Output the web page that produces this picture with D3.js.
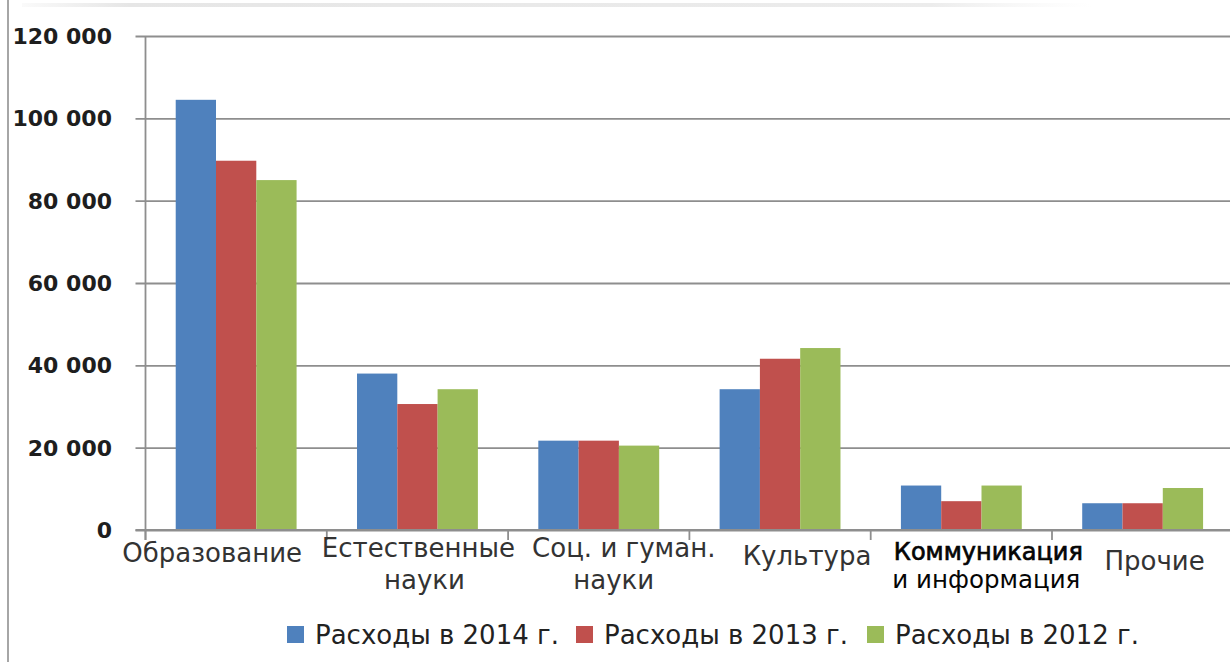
<!DOCTYPE html>
<html>
<head>
<meta charset="utf-8">
<script src="https://cdn.jsdelivr.net/npm/d3@7"></script>
<style>
  html, body { margin: 0; padding: 0; background: #fff; }
  svg { display: block; }
</style>
</head>
<body>
<svg id="chart" width="1230" height="662"></svg>
<script>
// Expenditure by field, three years
const categories = ["Образование", "Естественные\nнауки", "Соц. и гуман.\nнауки", "Культура", "Коммуникация\nи информация", "Прочие"];
const seriesNames = ["Расходы в 2014 г.", "Расходы в 2013 г.", "Расходы в 2012 г."];
const spend2014 = [104500, 38000, 21700, 34200, 10800, 6500];
const spend2013 = [89700, 30600, 21700, 41600, 7000, 6500];
const spend2012 = [85000, 34200, 20500, 44200, 10800, 10200];
const yTicks = [0, 20000, 40000, 60000, 80000, 100000, 120000];

const series = [spend2014, spend2013, spend2012];
const colors = ["#4F81BD", "#C0504D", "#9BBB59"];

// label placement: horizontal shift from band centre, baseline and size of each line
const labelLayout = [
  { dx: [-24], y: [562], size: [26] },
  { dx: [1, 7], y: [557, 589], size: [26, 26] },
  { dx: [25, 15], y: [557, 589], size: [26, 26] },
  { dx: [27], y: [565], size: [26] },
  { dx: [27, 25], y: [560, 588], size: [24, 24.5], strong: true },
  { dx: [12], y: [570], size: [26] }
];
const legendX = [287, 576, 867];

const svg = d3.select("#chart");
const plot = { left: 145.5, right: 145.5 + 6 * 181.3, top: 36, bottom: 530 };
const font = "DejaVu Sans, Verdana, sans-serif";

const x0 = d3.scaleBand()
  .domain(d3.range(categories.length))
  .range([plot.left, plot.right])
  .paddingInner(1 / 3)
  .paddingOuter(1 / 6);
const x1 = d3.scaleBand()
  .domain(d3.range(series.length))
  .range([0, x0.bandwidth()]);
const y = d3.scaleLinear().domain([0, 120000]).range([plot.bottom, plot.top]);

// page frame edges
const defs = svg.append("defs");
const fade = defs.append("linearGradient").attr("id", "topfade");
fade.append("stop").attr("offset", "0").attr("stop-color", "#e6e6e6").attr("stop-opacity", 0.2);
fade.append("stop").attr("offset", "0.1").attr("stop-color", "#e6e6e6").attr("stop-opacity", 1);
fade.append("stop").attr("offset", "0.85").attr("stop-color", "#ececec").attr("stop-opacity", 1);
fade.append("stop").attr("offset", "1").attr("stop-color", "#f4f4f4").attr("stop-opacity", 0);
svg.append("rect").attr("x", 22).attr("y", 3).attr("width", 1070).attr("height", 4)
  .attr("fill", "url(#topfade)");
svg.append("line").attr("x1", 8).attr("x2", 8).attr("y1", 0).attr("y2", 662)
  .attr("stroke", "#a6a6a6").attr("stroke-width", 2);

// horizontal gridlines with left tick stubs
const yAxis = d3.axisLeft(y).tickValues(yTicks).tickSize(-(1230 - plot.left)).tickFormat("");
const gy = svg.append("g").attr("transform", `translate(${plot.left},0)`).call(yAxis);
gy.select(".domain").remove();
gy.selectAll(".tick line").attr("stroke", "#8e8e8e").attr("stroke-width", 1.8).attr("x1", -10);

// y tick labels
svg.append("g").selectAll("text").data(yTicks).join("text")
  .attr("x", 112).attr("y", d => y(d)).attr("dy", "0.36em")
  .attr("text-anchor", "end")
  .attr("font-family", font)
  .attr("font-size", 22).attr("font-weight", "bold").attr("fill", "#1e1e1e")
  .text(d => d === 0 ? "0" : d3.format(",")(d).replace(/,/g, " "));

// vertical axis line
svg.append("line").attr("x1", plot.left).attr("x2", plot.left)
  .attr("y1", plot.top).attr("y2", plot.bottom + 10)
  .attr("stroke", "#8e8e8e").attr("stroke-width", 1.8);

// bars
const groups = svg.append("g").selectAll("g").data(categories).join("g")
  .attr("transform", (d, i) => `translate(${x0(i)},0)`);
groups.selectAll("rect").data((d, i) => series.map((s, k) => ({ k, v: s[i] }))).join("rect")
  .attr("x", d => x1(d.k)).attr("width", x1.bandwidth())
  .attr("y", d => y(d.v)).attr("height", d => plot.bottom - y(d.v))
  .attr("fill", d => colors[d.k]);

// category axis with ticks between groups
const boundaries = d3.range(categories.length + 1).map(i => plot.left + i * x0.step());
svg.append("line").attr("x1", plot.left - 10).attr("x2", 1230)
  .attr("y1", plot.bottom).attr("y2", plot.bottom)
  .attr("stroke", "#8e8e8e").attr("stroke-width", 1.8);
svg.append("g").selectAll("line").data(boundaries).join("line")
  .attr("x1", d => d).attr("x2", d => d)
  .attr("y1", plot.bottom).attr("y2", plot.bottom + 10)
  .attr("stroke", "#8e8e8e").attr("stroke-width", 1.8);

// category labels
const labels = svg.append("g").selectAll("text").data(categories).join("text")
  .attr("text-anchor", "middle")
  .attr("font-family", font)
  .attr("fill", (d, i) => labelLayout[i].strong ? "#050505" : "#333");
labels.each(function (d, i) {
  const cx = x0(i) + x0.bandwidth() / 2;
  const lay = labelLayout[i];
  d3.select(this).selectAll("tspan").data(d.split("\n")).join("tspan")
    .attr("x", (t, j) => cx + lay.dx[j])
    .attr("y", (t, j) => lay.y[j])
    .attr("font-size", (t, j) => lay.size[j])
    .attr("stroke", (t, j) => lay.strong && j === 0 ? "#050505" : null)
    .attr("stroke-width", (t, j) => lay.strong && j === 0 ? 0.7 : null)
    .text(t => t);
});

// legend
const legend = svg.append("g").selectAll("g").data(seriesNames).join("g")
  .attr("transform", (d, i) => `translate(${legendX[i]},626)`);
legend.append("rect").attr("width", 17).attr("height", 17).attr("fill", (d, i) => colors[i]);
legend.append("text").attr("x", 28).attr("y", 18)
  .attr("font-family", font)
  .attr("font-size", 26).attr("fill", "#222")
  .text(d => d);
</script>
</body>
</html>
